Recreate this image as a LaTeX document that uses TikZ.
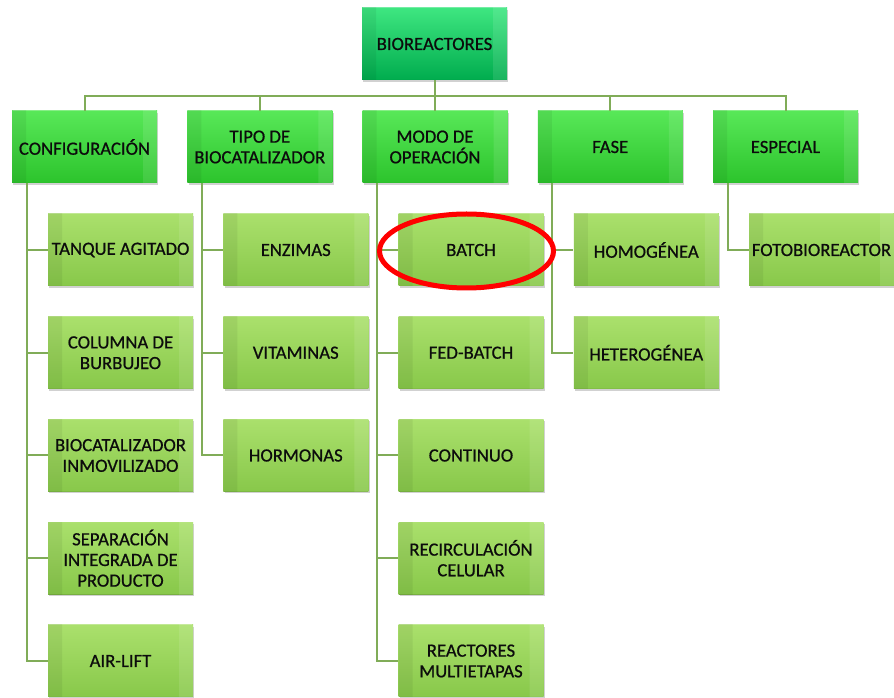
\documentclass[tikz,border=0pt]{standalone}
\usepackage{fontspec}
\setmainfont{Carlito}
\newfontfamily\boxfont{Carlito}[FakeBold=0.7]
\usetikzlibrary{calc}
\usetikzlibrary{shadows}

\definecolor{rootTop}{RGB}{62,230,128}
\definecolor{rootBot}{RGB}{0,172,78}
\definecolor{mainTop}{RGB}{88,232,88}
\definecolor{mainBot}{RGB}{44,196,44}
\definecolor{subTop}{RGB}{170,224,108}
\definecolor{subBot}{RGB}{136,200,74}
\definecolor{linkGreen}{RGB}{128,172,88}
\definecolor{txtBlack}{RGB}{12,12,12}

\tikzset{
  bevel/.style={path picture={
    \coordinate (bnw) at (path picture bounding box.north west);
    \coordinate (bne) at (path picture bounding box.north east);
    \coordinate (bse) at (path picture bounding box.south east);
    \coordinate (bsw) at (path picture bounding box.south west);
    \fill[white,opacity=.28] (bnw) -- (bne) -- ($(bne)+(-14,9)$) -- ($(bnw)+(14,9)$) -- cycle;
    \fill[black,opacity=.06] (bnw) -- ($(bnw)+(14,9)$) -- ($(bsw)+(14,-9)$) -- (bsw) -- cycle;
    \fill[white,opacity=.10] (bne) -- ($(bne)+(-14,9)$) -- ($(bse)+(-14,-9)$) -- (bse) -- cycle;
    \fill[black,opacity=.12] (bsw) -- ($(bsw)+(14,-9)$) -- ($(bse)+(-14,-9)$) -- (bse) -- cycle;
  }},
  box/.style={rectangle, minimum width=108.75pt, minimum height=54pt, inner sep=1pt,
    align=center, text=txtBlack, font=\boxfont\fontsize{14}{15.5}\selectfont,
    drop shadow={shadow xshift=1pt, shadow yshift=-1.5pt, opacity=.3, fill=black!60}, bevel},
  rootbox/.style={box, top color=rootTop, bottom color=rootBot},
  mainbox/.style={box, top color=mainTop, bottom color=mainBot},
  subbox/.style={box, top color=subTop, bottom color=subBot},
  link/.style={draw=linkGreen, line width=1.5pt},
}

\begin{document}
\begin{tikzpicture}[x=0.75pt,y=0.75pt,yscale=-1,xscale=1]
\useasboundingbox (0,0) rectangle (894,698);

% Root
\node[rootbox] (root) at (434.5,44) {BIOREACTORES};

% Level 1
\node[mainbox] (conf) at (84.5,147) {CONFIGURACIÓN};
\node[mainbox] (tipo) at (259.75,147) {TIPO DE\\BIOCATALIZADOR};
\node[mainbox] (modo) at (435,147) {MODO DE\\OPERACIÓN};
\node[mainbox] (fase) at (610.25,147) {FASE};
\node[mainbox] (esp) at (785.5,147) {ESPECIAL};

% Configuracion
\node[subbox] (tanque) at (120.5,250) {TANQUE AGITADO};
\node[subbox] (columna) at (120.5,352.75) {COLUMNA DE\\BURBUJEO};
\node[subbox] (inmov) at (120.5,455.5) {BIOCATALIZADOR\\INMOVILIZADO};
\node[subbox] (separ) at (120.5,558.25) {SEPARACIÓN\\INTEGRADA DE\\PRODUCTO};
\node[subbox] (airlift) at (120.5,661) {AIR-LIFT};

% Tipo de biocatalizador
\node[subbox] (enzimas) at (295.75,250) {ENZIMAS};
\node[subbox] (vitaminas) at (295.75,352.75) {VITAMINAS};
\node[subbox] (hormonas) at (295.75,455.5) {HORMONAS};

% Modo de operacion
\node[subbox] (batch) at (471,250) {BATCH};
\node[subbox] (fedbatch) at (471,352.75) {FED-BATCH};
\node[subbox] (continuo) at (471,455.5) {CONTINUO};
\node[subbox] (recirc) at (471,558.25) {RECIRCULACIÓN\\CELULAR};
\node[subbox] (multi) at (471,661) {REACTORES\\MULTIETAPAS};

% Fase
\node[subbox] (homog) at (646.25,250) {HOMOGÉNEA};
\node[subbox] (heterog) at (646.25,352.75) {HETEROGÉNEA};

% Especial
\node[subbox] (foto) at (821.5,250) {FOTOBIOREACTOR};

% Connectors
\coordinate (bus) at (434.5,96);
\foreach \n in {conf,tipo,modo,fase,esp}
  \draw[link] (root.south) -- (bus) -| (\n.north);

\coordinate (confspine) at ($(conf.south west)+(15,0)$);
\foreach \c in {tanque,columna,inmov,separ,airlift}
  \draw[link] (confspine) |- (\c.west);

\coordinate (tipospine) at ($(tipo.south west)+(15,0)$);
\foreach \c in {enzimas,vitaminas,hormonas}
  \draw[link] (tipospine) |- (\c.west);

\coordinate (modospine) at ($(modo.south west)+(15,0)$);
\foreach \c in {batch,fedbatch,continuo,recirc,multi}
  \draw[link] (modospine) |- (\c.west);

\coordinate (fasespine) at ($(fase.south west)+(15,0)$);
\foreach \c in {homog,heterog}
  \draw[link] (fasespine) |- (\c.west);

\coordinate (espspine) at ($(esp.south west)+(15,0)$);
\draw[link] (espspine) |- (foto.west);

% Red mark
\draw[red, line width=3.75pt] ($(batch)+(-4.5,1)$) ellipse [x radius=87, y radius=37];

\end{tikzpicture}
\end{document}
